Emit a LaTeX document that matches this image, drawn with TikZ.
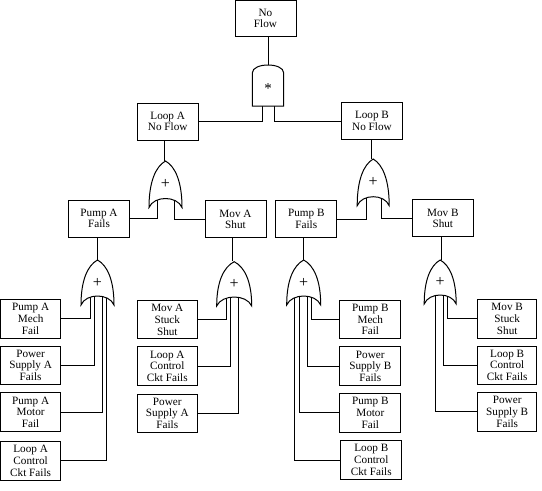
\documentclass[tikz,border=0pt]{standalone}
\usepackage{fontspec}
\setmainfont{Liberation Serif}
\usetikzlibrary{calc}
\pgfdeclarelayer{bg}
\pgfsetlayers{bg,main}
\tikzset{
  x=1pt, y=-1pt,
  every path/.style={line width=1pt},
  evbox/.style={draw, line width=1pt, align=center, inner sep=0pt,
    minimum width=61pt, minimum height=37pt,
    font=\fontsize{11.2}{11.7}\selectfont},
  leafbox/.style={evbox, minimum width=60pt, minimum height=38.5pt},
  gateshape/.style={draw, fill=white, line width=1pt},
  gatelabel/.style={inner sep=0pt, font=\fontsize{16}{16}\selectfont},
  wire/.style={draw, line width=1pt},
}
% OR gate: name, cx, top, height, half-width
\newcommand\myorgate[5]{%
  \begin{scope}[shift={(#2,#3)}]
    \draw[gateshape] (0,0) .. controls (-0.6*#5,0.12*#4) and (-#5,0.45*#4) .. (-#5,#4)
      .. controls (-0.7*#5,#4-12) and (0.7*#5,#4-12) .. (#5,#4)
      .. controls (#5,0.45*#4) and (0.6*#5,0.12*#4) .. (0,0) -- cycle;
    \node[gatelabel, minimum width=2*#5, minimum height=#4] (#1) at (0,0.5*#4) {+};
  \end{scope}}
% AND gate: name, cx, top, height, half-width
\newcommand\myandgate[5]{%
  \begin{scope}[shift={(#2,#3)}]
    \draw[gateshape] (-#5,#4) -- (-#5,8) .. controls (-#5,-2.67) and (#5,-2.67) .. (#5,8)
      -- (#5,#4) -- cycle;
    \node[gatelabel, font=\fontsize{15}{15}\selectfont, minimum width=2*#5, minimum height=#4] (#1) at (0,0.5*#4+3) {*};
  \end{scope}}
\begin{document}
\begin{tikzpicture}
\useasboundingbox (0,0) rectangle (542,491);
% top level
\node[evbox, minimum height=35.5pt] (top) at (265.5,18.3) {No\\Flow};
\myandgate{andg}{268}{65}{41}{15.7}
\node[evbox] (loopA) at (167.7,121.5) {Loop A\\No Flow};
\node[evbox] (loopB) at (372,121) {Loop B\\No Flow};
\myorgate{orA}{165.5}{161}{46.5}{16.5}
\myorgate{orB}{373.2}{159}{46.7}{16}
\node[evbox] (pumpA) at (99,218.5) {Pump A\\Fails};
\node[evbox] (movA) at (235.5,219.3) {Mov A\\Shut};
\node[evbox] (pumpB) at (306.3,219) {Pump B\\Fails};
\node[evbox] (movB) at (442.8,218.3) {Mov B\\Shut};
\myorgate{gPA}{97.5}{260}{45}{16.5}
\myorgate{gMA}{234.2}{261.7}{44.3}{17.5}
\myorgate{gPB}{303.7}{260}{45}{17}
\myorgate{gMB}{440.2}{260}{44}{16}
% leaves column 1
\node[leafbox] (paMech) at (30.6,318.8) {Pump A\\Mech\\Fail};
\node[leafbox] (psA1) at (30.6,365.3) {Power\\Supply A\\Fails};
\node[leafbox] (paMotor) at (30.6,412.2) {Pump A\\Motor\\Fail};
\node[leafbox] (laCtl1) at (30.6,460.8) {Loop A\\Control\\Ckt Fails};
% column 2
\node[leafbox] (maStuck) at (167.3,319.7) {Mov A\\Stuck\\Shut};
\node[leafbox] (laCtl2) at (167.3,366.2) {Loop A\\Control\\Ckt Fails};
\node[leafbox] (psA2) at (167.3,413.3) {Power\\Supply A\\Fails};
% column 3
\node[leafbox, minimum width=61pt] (pbMech) at (370.3,319.5) {Pump B\\Mech\\Fail};
\node[leafbox, minimum width=61pt] (psB1) at (370.3,366.2) {Power\\Supply B\\Fails};
\node[leafbox, minimum width=61pt] (pbMotor) at (370.3,412.8) {Pump B\\Motor\\Fail};
\node[leafbox, minimum width=61pt] (lbCtl1) at (371.3,460) {Loop B\\Control\\Ckt Fails};
% column 4
\node[leafbox, minimum width=59pt] (mbStuck) at (507.2,318.8) {Mov B\\Stuck\\Shut};
\node[leafbox, minimum width=59pt] (lbCtl2) at (507.2,365.3) {Loop B\\Control\\Ckt Fails};
\node[leafbox, minimum width=59pt] (psB2) at (507.2,411.8) {Power\\Supply B\\Fails};
% connectors
\begin{pgfonlayer}{bg}
\draw[wire] (andg.north) -- (andg.north |- top.south);
\draw[wire] ([xshift=-5.5pt]andg.center) |- (loopA.east);
\draw[wire] ([xshift=6pt]andg.center) |- (loopB.west);
\draw[wire] ([xshift=-1pt]orA.north) -- ([xshift=-1pt]orA.north |- loopA.south);
\draw[wire] ([xshift=-1.5pt]orB.north) -- ([xshift=-1.5pt]orB.north |- loopB.south);
\draw[wire] ([xshift=-7.8pt]orA.center) |- (pumpA.east);
\draw[wire] ([xshift=8.5pt]orA.center) |- (movA.west);
\draw[wire] ([xshift=-6.5pt]orB.center) |- (pumpB.east);
\draw[wire] ([xshift=8.5pt]orB.center) |- (movB.west);
\draw[wire] (gPA.north) -- (gPA.north |- pumpA.south);
\draw[wire] ([xshift=-2pt]gMA.north) -- ([xshift=-2pt]gMA.north |- movA.south);
\draw[wire] (gPB.north) -- (gPB.north |- pumpB.south);
\draw[wire] ([xshift=1.5pt]gMB.north) -- ([xshift=1.5pt]gMB.north |- movB.south);
% pump A legs
\draw[wire] ([xshift=-6.8pt]gPA.center) |- (paMech.east);
\draw[wire] ([xshift=-2.8pt]gPA.center) |- (psA1.east);
\draw[wire] ([xshift=4.8pt]gPA.center) |- (paMotor.east);
\draw[wire] ([xshift=8.5pt]gPA.center) |- (laCtl1.east);
% mov A legs
\draw[wire] ([xshift=-7.5pt]gMA.center) |- (maStuck.east);
\draw[wire] ([xshift=-4pt]gMA.center) |- (laCtl2.east);
\draw[wire] ([xshift=4.1pt]gMA.center) |- (psA2.east);
% pump B legs
\draw[wire] ([xshift=7.3pt]gPB.center) |- (pbMech.west);
\draw[wire] ([xshift=3.6pt]gPB.center) |- (psB1.west);
\draw[wire] ([xshift=-4.4pt]gPB.center) |- (pbMotor.west);
\draw[wire] ([xshift=-9.7pt]gPB.center) |- (lbCtl1.west);
% mov B legs
\draw[wire] ([xshift=7.5pt]gMB.center) |- (mbStuck.west);
\draw[wire] ([xshift=3.1pt]gMB.center) |- (lbCtl2.west);
\draw[wire] ([xshift=-4.5pt]gMB.center) |- (psB2.west);
\end{pgfonlayer}
\end{tikzpicture}
\end{document}
